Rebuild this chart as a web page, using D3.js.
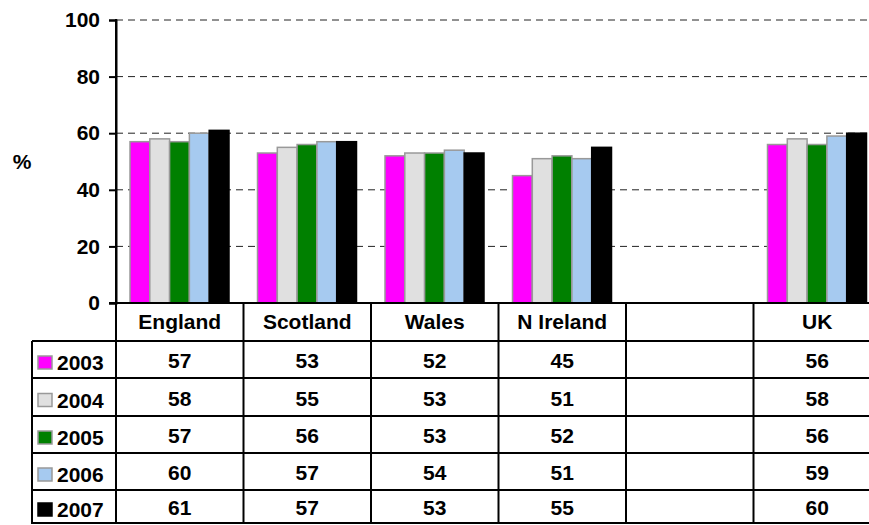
<!DOCTYPE html>
<html>
<head>
<meta charset="utf-8">
<script src="https://cdn.jsdelivr.net/npm/d3@7"></script>
<style>
  body { margin: 0; background: #fff; }
  text { font-family: "Liberation Sans", Arial, sans-serif; font-weight: bold; fill: #000; }
</style>
</head>
<body>
<script>
// data
const categories = ["England", "Scotland", "Wales", "N Ireland", "", "UK"];
const years = ["2003", "2004", "2005", "2006", "2007"];
const v2003 = [57, 53, 52, 45, null, 56];
const v2004 = [58, 55, 53, 51, null, 58];
const v2005 = [57, 56, 53, 52, null, 56];
const v2006 = [60, 57, 54, 51, null, 59];
const v2007 = [61, 57, 53, 55, null, 60];
const yTicks = [0, 20, 40, 60, 80, 100];

const series = [v2003, v2004, v2005, v2006, v2007];
const fills = ["#ff00ff", "#e0e0e0", "#008000", "#a6caf0", "#000000"];
const strokes = ["#999", "#999", "#999", "#999", "#000"];

const width = 869, height = 525;
const plotLeft = 116, plotRight = 881, plotTop = 20, plotBottom = 303;
const rowY = [303, 341, 378, 416, 453, 490, 523];
const legendLeft = 32;
const fontSize = "21px";

const svg = d3.select("body").append("svg")
    .attr("width", width)
    .attr("height", height);

// scales
const xScale = d3.scaleBand()
    .domain(d3.range(categories.length))
    .range([plotLeft, plotRight])
    .paddingInner(0);

const xSub = d3.scaleBand()
    .domain(years)
    .range([14, 113]);

const yScale = d3.scaleLinear()
    .domain([0, 100])
    .range([plotBottom, plotTop]);

// gridlines
svg.append("g")
    .selectAll("line")
    .data(yTicks.filter(d => d > 0))
    .enter()
    .append("line")
    .attr("x1", plotLeft)
    .attr("x2", width)
    .attr("y1", d => yScale(d))
    .attr("y2", d => yScale(d))
    .attr("stroke", "#222")
    .attr("stroke-width", 1)
    .attr("stroke-dasharray", "7,5");

// bars
years.forEach((yr, si) => {
    svg.append("g")
        .selectAll("rect")
        .data(series[si].map((v, i) => ({i: i, v: v})).filter(d => d.v != null))
        .enter()
        .append("rect")
        .attr("x", d => xScale(d.i) + xSub(yr))
        .attr("y", d => yScale(d.v))
        .attr("width", xSub.bandwidth())
        .attr("height", d => plotBottom - yScale(d.v))
        .attr("fill", fills[si])
        .attr("stroke", strokes[si])
        .attr("stroke-width", 1.5);
});

// y axis
const leftAxis = d3.axisLeft(yScale)
    .tickValues(yTicks)
    .tickSize(7)
    .tickPadding(9);

const yAxisG = svg.append("g")
    .attr("transform", "translate(" + plotLeft + ",0)")
    .call(leftAxis);
yAxisG.select(".domain").attr("stroke", "#000").attr("stroke-width", 2);
yAxisG.selectAll(".tick line").attr("stroke", "#000").attr("stroke-width", 2);
yAxisG.selectAll("text")
    .style("font-size", fontSize)
    .style("font-family", "Liberation Sans, Arial, sans-serif")
    .style("font-weight", "bold");

svg.append("text")
    .attr("x", 22)
    .attr("y", 169)
    .attr("text-anchor", "middle")
    .style("font-size", fontSize)
    .text("%");

// data table
const table = svg.append("g");

// horizontal lines
rowY.forEach((y, r) => {
    table.append("line")
        .attr("x1", r === 0 ? plotLeft - 7 : legendLeft)
        .attr("x2", plotRight)
        .attr("y1", y)
        .attr("y2", y)
        .attr("stroke", "#000")
        .attr("stroke-width", 2);
});

// vertical lines
d3.range(categories.length + 1).forEach(i => {
    const x = i < categories.length ? xScale(i) : plotRight;
    table.append("line")
        .attr("x1", x).attr("x2", x)
        .attr("y1", i === 0 ? plotTop - 1 : plotBottom)
        .attr("y2", rowY[rowY.length - 1] + 1)
        .attr("stroke", "#000")
        .attr("stroke-width", 2);
});
table.append("line")
    .attr("x1", legendLeft).attr("x2", legendLeft)
    .attr("y1", rowY[1]).attr("y2", rowY[rowY.length - 1] + 1)
    .attr("stroke", "#000")
    .attr("stroke-width", 2);

// category header
table.selectAll(".cat")
    .data(categories)
    .enter()
    .append("text")
    .attr("class", "cat")
    .attr("x", (d, i) => xScale(i) + xScale.bandwidth() / 2)
    .attr("y", 329)
    .attr("text-anchor", "middle")
    .style("font-size", fontSize)
    .text(d => d);

// rows
years.forEach((yr, si) => {
    const y0 = rowY[si + 1], y1 = rowY[si + 2];
    const cy = (y0 + y1) / 2;

    table.append("rect")
        .attr("x", 38)
        .attr("y", cy - 3.5)
        .attr("width", 14)
        .attr("height", 13)
        .attr("fill", fills[si])
        .attr("stroke", si === 4 ? "#000" : "#999")
        .attr("stroke-width", 1.5);

    table.append("text")
        .attr("x", 57)
        .attr("y", cy + 10.5)
        .style("font-size", fontSize)
        .text(yr);

    table.selectAll(".v" + yr)
        .data(series[si])
        .enter()
        .append("text")
        .attr("x", (d, i) => xScale(i) + xScale.bandwidth() / 2)
        .attr("y", cy + 8.5)
        .attr("text-anchor", "middle")
        .style("font-size", fontSize)
        .text(d => d == null ? "" : d);
});
</script>
</body>
</html>
